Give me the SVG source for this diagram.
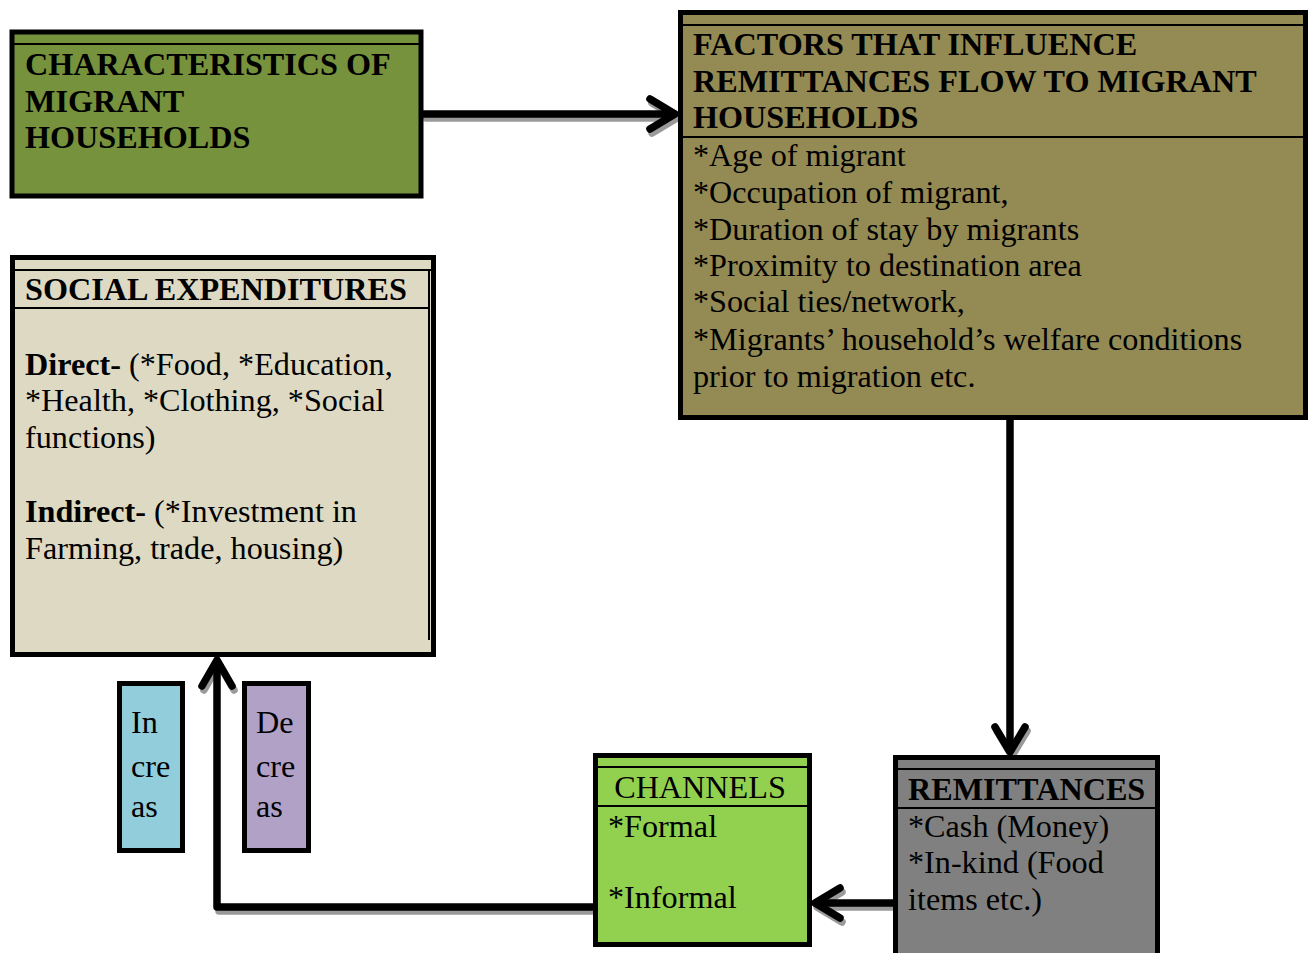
<svg xmlns="http://www.w3.org/2000/svg" width="1309" height="953" viewBox="0 0 1309 953">
<style>
.box{stroke:#000;stroke-width:5}
.thin{stroke:#000;stroke-width:2}
.hb{font-family:"Liberation Serif","Times New Roman",serif;font-weight:bold;font-size:32.2px;fill:#000}
.tx{font-family:"Liberation Serif","Times New Roman",serif;font-size:32.2px;fill:#000}
.con{fill:none;stroke:#000;stroke-width:7.5;stroke-linecap:round;stroke-linejoin:round}
.sh{fill:none;stroke:#9a9a9a;stroke-width:7.5;stroke-linecap:round;stroke-linejoin:round}
</style>
<rect width="1309" height="953" fill="#fff"/>

<g id="connectors">
  <g id="shadows">
    <line class="sh" x1="426" y1="118" x2="672" y2="118"/>
    <polyline class="sh" points="652,103 677,118 652,133"/>
    <polyline class="sh" points="997,731 1012,756 1027,731"/>
    <line class="sh" x1="892" y1="907" x2="820" y2="907"/>
    <polyline class="sh" points="842,892 817,907 842,922"/>
    <polyline class="sh" points="592,911 219,911"/>
    <polyline class="sh" points="204,690 219,664 234,690"/>
  </g>
  <line class="con" x1="424" y1="114" x2="673" y2="114"/>
  <polyline class="con" points="650,99 675,114 650,129"/>
  <line class="con" x1="1010" y1="420" x2="1010" y2="750"/>
  <polyline class="con" points="995,727 1010,752 1025,727"/>
  <line class="con" x1="893" y1="903" x2="818" y2="903"/>
  <polyline class="con" points="840,888 815,903 840,918"/>
  <polyline class="con" points="593,907 217,907 217,662"/>
  <polyline class="con" points="202,686 217,660 232,686"/>
</g>

<g id="characteristics">
  <rect class="box" x="12" y="32" width="409" height="164" fill="#76923C"/>
  <line class="thin" x1="14" y1="44" x2="419" y2="44"/>
  <text class="hb" x="25" y="75">CHARACTERISTICS OF</text>
  <text class="hb" x="25" y="112">MIGRANT</text>
  <text class="hb" x="25" y="148">HOUSEHOLDS</text>
</g>

<g id="factors">
  <rect class="box" x="680.5" y="12.5" width="625" height="405" fill="#948A54"/>
  <line class="thin" x1="683" y1="25" x2="1303" y2="25"/>
  <line class="thin" x1="683" y1="137" x2="1303" y2="137"/>
  <text class="hb" x="693" y="55">FACTORS THAT INFLUENCE</text>
  <text class="hb" x="693" y="92">REMITTANCES FLOW TO MIGRANT</text>
  <text class="hb" x="693" y="128">HOUSEHOLDS</text>
  <text class="tx" x="693" y="166">*Age of migrant</text>
  <text class="tx" x="693" y="203">*Occupation of migrant,</text>
  <text class="tx" x="693" y="240">*Duration of stay by migrants</text>
  <text class="tx" x="693" y="276">*Proximity to destination area</text>
  <text class="tx" x="693" y="312">*Social ties/network,</text>
  <text class="tx" x="693" y="350">*Migrants’ household’s welfare conditions</text>
  <text class="tx" x="693" y="387">prior to migration etc.</text>
</g>

<g id="social">
  <rect class="box" x="12.5" y="257.5" width="421" height="397" fill="#DDD9C3"/>
  <line class="thin" x1="15" y1="270" x2="431" y2="270"/>
  <line class="thin" x1="15" y1="308" x2="429" y2="308"/>
  <line class="thin" x1="429" y1="270" x2="429" y2="640"/>
  <text class="hb" x="25" y="300">SOCIAL EXPENDITURES</text>
  <text class="tx" x="25" y="375"><tspan font-weight="bold">Direct-</tspan> (*Food, *Education,</text>
  <text class="tx" x="25" y="411">*Health, *Clothing, *Social</text>
  <text class="tx" x="25" y="448">functions)</text>
  <text class="tx" x="25" y="522"><tspan font-weight="bold">Indirect-</tspan> (*Investment in</text>
  <text class="tx" x="25" y="559">Farming, trade, housing)</text>
</g>

<g id="increase">
  <rect class="box" x="119.5" y="683.5" width="63" height="167" fill="#92CDDC"/>
  <text class="tx" x="131" y="733">In</text>
  <text class="tx" x="131" y="777">cre</text>
  <text class="tx" x="131" y="817">as</text>
</g>

<g id="decrease">
  <rect class="box" x="244.5" y="683.5" width="64" height="167" fill="#B2A1C7"/>
  <text class="tx" x="256" y="733">De</text>
  <text class="tx" x="256" y="777">cre</text>
  <text class="tx" x="256" y="817">as</text>
</g>

<g id="channels">
  <rect class="box" x="595.5" y="755.5" width="214" height="189" fill="#92D050"/>
  <line class="thin" x1="598" y1="767" x2="807" y2="767"/>
  <line class="thin" x1="598" y1="806" x2="807" y2="806"/>
  <text class="tx" x="700" y="798" text-anchor="middle">CHANNELS</text>
  <text class="tx" x="608" y="837">*Formal</text>
  <text class="tx" x="608" y="908">*Informal</text>
</g>

<g id="remittances">
  <rect class="box" x="895.5" y="757.5" width="262" height="205" fill="#808080"/>
  <line class="thin" x1="898" y1="769" x2="1155" y2="769"/>
  <line class="thin" x1="898" y1="808" x2="1155" y2="808"/>
  <text class="hb" x="908" y="800">REMITTANCES</text>
  <text class="tx" x="908" y="837">*Cash (Money)</text>
  <text class="tx" x="908" y="873">*In-kind (Food</text>
  <text class="tx" x="908" y="910">items etc.)</text>
</g>
</svg>
